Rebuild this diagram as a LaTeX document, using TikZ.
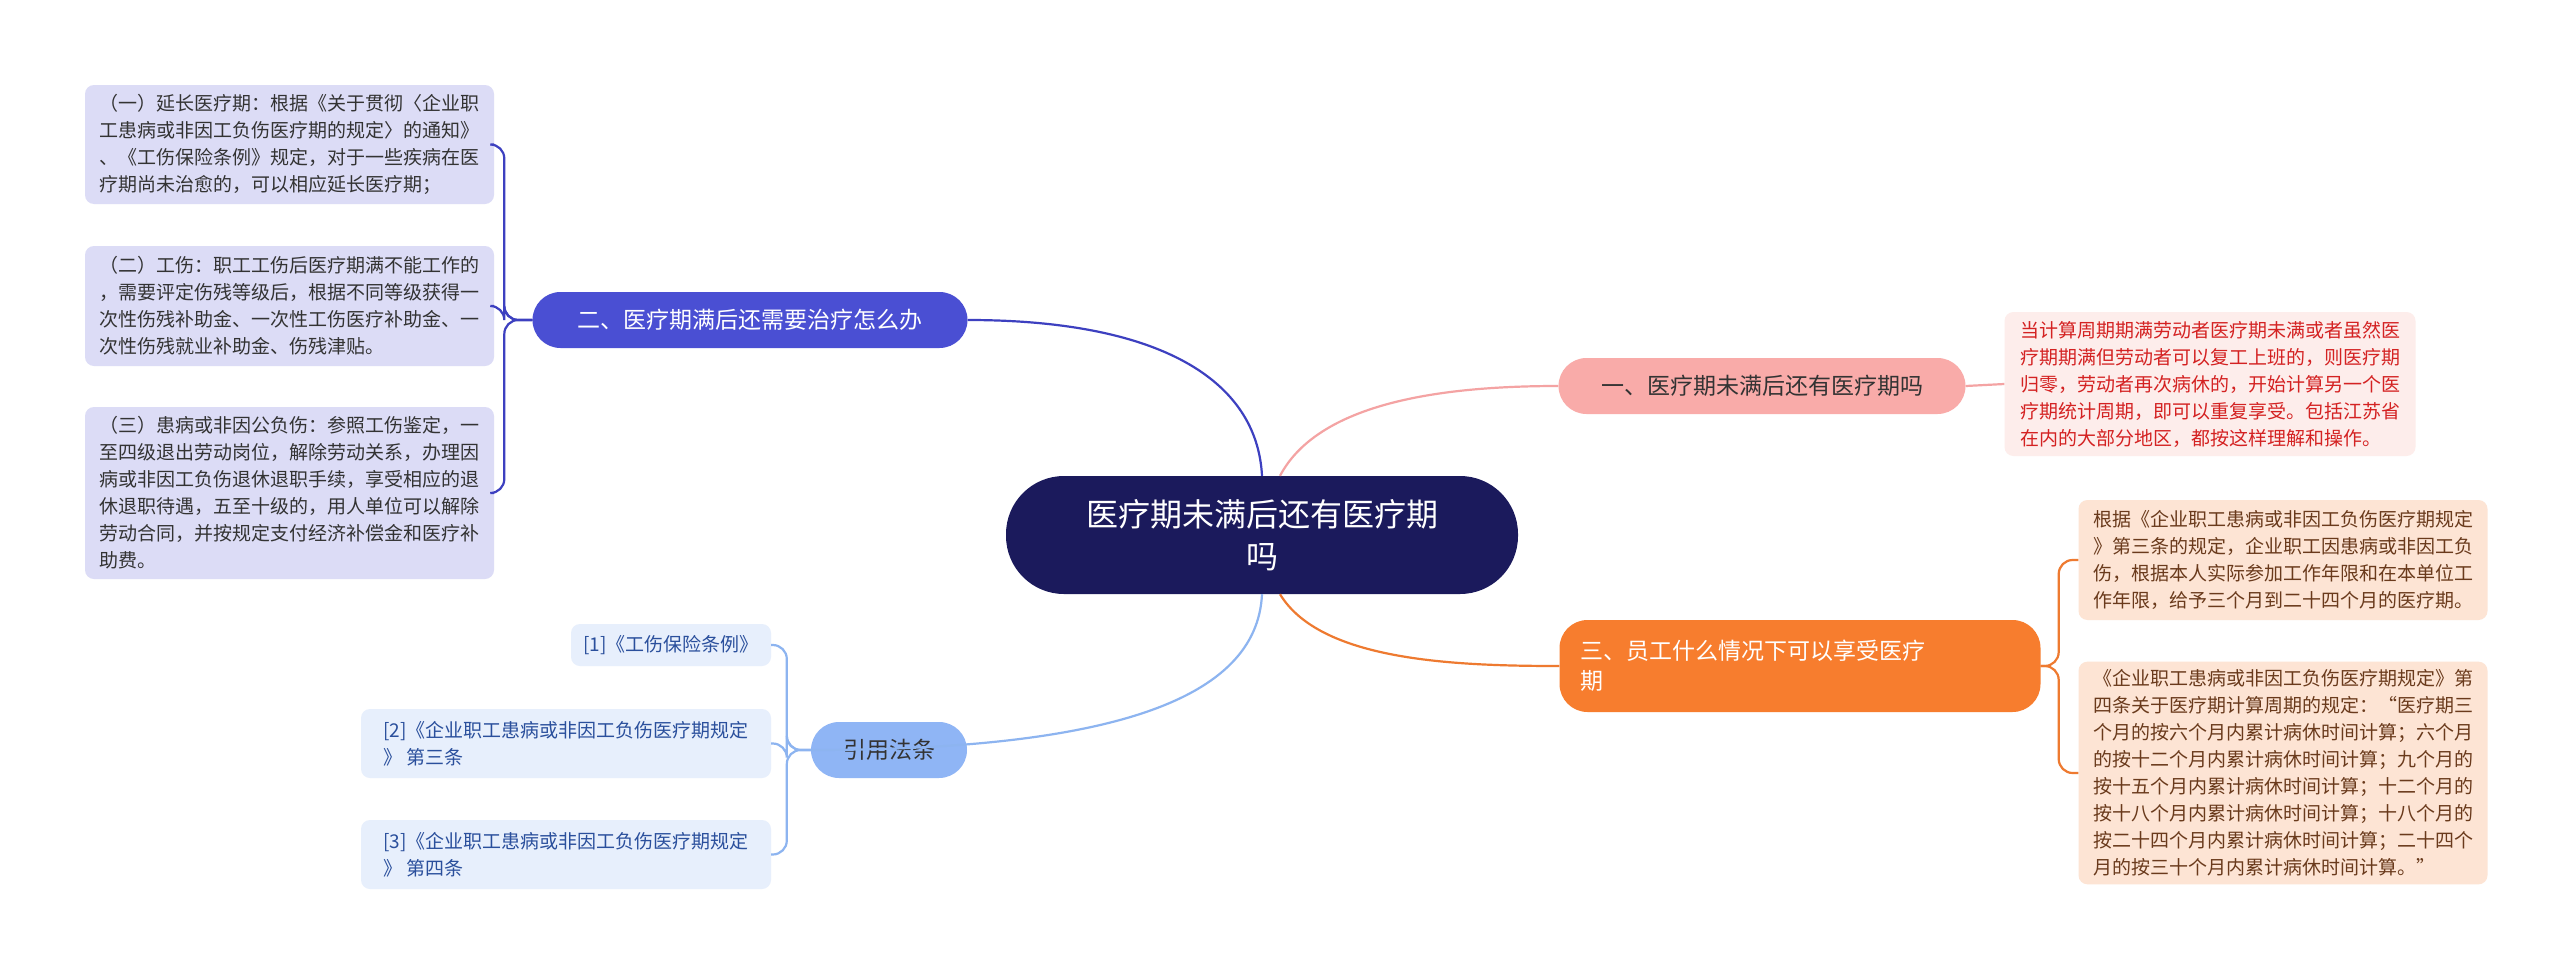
\documentclass[tikz,border=0pt]{standalone}
\usepackage{fontspec}
\setmainfont{Noto Sans CJK SC}
\definecolor{navy}{HTML}{1B1A5C}
\definecolor{bluem}{HTML}{4A4FD3}
\definecolor{bluel}{HTML}{3D40C0}
\definecolor{lav}{HTML}{DCDCF6}
\definecolor{pinkm}{HTML}{F9ABA9}
\definecolor{pinkl}{HTML}{F4A3A3}
\definecolor{pinkbg}{HTML}{FDEDEB}
\definecolor{redt}{HTML}{D42222}
\definecolor{orm}{HTML}{F77D2E}
\definecolor{orl}{HTML}{EE7A30}
\definecolor{orbg}{HTML}{FDE4D4}
\definecolor{brownt}{HTML}{6A3A1C}
\definecolor{skym}{HTML}{8FB5F5}
\definecolor{skyl}{HTML}{8DB4F0}
\definecolor{skybg}{HTML}{E7EFFC}
\definecolor{bluet}{HTML}{2A4F9C}
\begin{document}
\begin{tikzpicture}[x=1pt,y=-1pt,
  leaf/.style={rounded corners=9,inner xsep=12,inner ysep=8,align=left,font=\fontsize{19}{27}\selectfont},
  branch/.style={rounded corners=28,inner xsep=20,align=left,font=\fontsize{23}{30}\selectfont},
  link/.style={line width=2.2}]
\useasboundingbox (0,0) rectangle (2560,969);
\fill[white] (0,0) rectangle (2560,969);
% centre
\node[fill=navy,text=white,rounded corners=58,minimum width=512,minimum height=118,align=center,font=\fontsize{32}{42}\selectfont] (c) at (1262,535) {医疗期未满后还有医疗期\\吗};
% branches
\node[branch,fill=pinkm,text=black!80,minimum width=407,minimum height=56] (b1) at (1762,386) {一、医疗期未满后还有医疗期吗};
\node[branch,fill=orm,text=white,minimum width=481,minimum height=92,text width=440] (b3) at (1800,666) {三、员工什么情况下可以享受医疗\\期};
\node[branch,fill=bluem,text=white,minimum width=435,minimum height=56] (b2) at (750,320) {二、医疗期满后还需要治疗怎么办};
\node[branch,fill=skym,text=black!80,minimum width=156,minimum height=56,inner xsep=10] (b4) at (889,750) {引用法条};
% leaves
\node[leaf,fill=pinkbg,text=redt,minimum width=411,minimum height=144] (r1) at (2210,384) {当计算周期期满劳动者医疗期未满或者虽然医\\疗期期满但劳动者可以复工上班的，则医疗期\\归零，劳动者再次病休的，开始计算另一个医\\疗期统计周期，即可以重复享受。包括江苏省\\在内的大部分地区，都按这样理解和操作。};
\node[leaf,fill=orbg,text=brownt,minimum width=409,minimum height=120] (o1) at (2283,560) {根据《企业职工患病或非因工负伤医疗期规定\\》第三条的规定，企业职工因患病或非因工负\\伤，根据本人实际参加工作年限和在本单位工\\作年限，给予三个月到二十四个月的医疗期。};
\node[leaf,fill=orbg,text=brownt,minimum width=409,minimum height=220] (o2) at (2283,773) {《企业职工患病或非因工负伤医疗期规定》第\\四条关于医疗期计算周期的规定：“医疗期三\\个月的按六个月内累计病休时间计算；六个月\\的按十二个月内累计病休时间计算；九个月的\\按十五个月内累计病休时间计算；十二个月的\\按十八个月内累计病休时间计算；十八个月的\\按二十四个月内累计病休时间计算；二十四个\\月的按三十个月内累计病休时间计算。”};
\node[leaf,fill=lav,text=black!80,minimum width=409,minimum height=119] (l1) at (289.5,144.5) {（一）延长医疗期：根据《关于贯彻〈企业职\\工患病或非因工负伤医疗期的规定〉的通知》\\、《工伤保险条例》规定，对于一些疾病在医\\疗期尚未治愈的，可以相应延长医疗期；};
\node[leaf,fill=lav,text=black!80,minimum width=409,minimum height=120] (l2) at (289.5,306) {（二）工伤：职工工伤后医疗期满不能工作的\\，需要评定伤残等级后，根据不同等级获得一\\次性伤残补助金、一次性工伤医疗补助金、一\\次性伤残就业补助金、伤残津贴。};
\node[leaf,fill=lav,text=black!80,minimum width=409,minimum height=172] (l3) at (289.5,493) {（三）患病或非因公负伤：参照工伤鉴定，一\\至四级退出劳动岗位，解除劳动关系，办理因\\病或非因工负伤退休退职手续，享受相应的退\\休退职待遇，五至十级的，用人单位可以解除\\劳动合同，并按规定支付经济补偿金和医疗补\\助费。};
\node[leaf,fill=skybg,text=bluet,minimum width=200,minimum height=42] (f1) at (671,645) {[1]《工伤保险条例》};
\node[leaf,fill=skybg,text=bluet,minimum width=410,minimum height=69] (f2) at (566,743.5) {[2]《企业职工患病或非因工负伤医疗期规定\\》 第三条};
\node[leaf,fill=skybg,text=bluet,minimum width=410,minimum height=69] (f3) at (566,854.5) {[3]《企业职工患病或非因工负伤医疗期规定\\》 第四条};
% centre links
\draw[link,bluel] (c.north) .. controls (1257,380) and (1160,320) .. (b2.east);
\draw[link,pinkl] ([xshift=18]c.north) .. controls (1320,400) and (1450,386) .. (b1.west);
\draw[link,orl] ([xshift=18]c.south) .. controls (1320,660) and (1450,666) .. (b3.west);
\draw[link,skyl] (c.south) .. controls (1257,700) and (1110,750) .. (b4.west);
% brackets
\foreach \n in {l1,l2,l3} \draw[link,bluel,rounded corners=14] (b2.west) -- ++(-28,0) |- (\n.east);
\foreach \n in {f1,f2,f3} \draw[link,skyl,rounded corners=14] (b4.west) -- ++(-24,0) |- (\n.east);
\foreach \n in {o1,o2} \draw[link,orl,rounded corners=14] (b3.east) -- ++(18,0) |- (\n.west);
\draw[link,pinkl] (b1.east) -- (r1.west);
\end{tikzpicture}
\end{document}
